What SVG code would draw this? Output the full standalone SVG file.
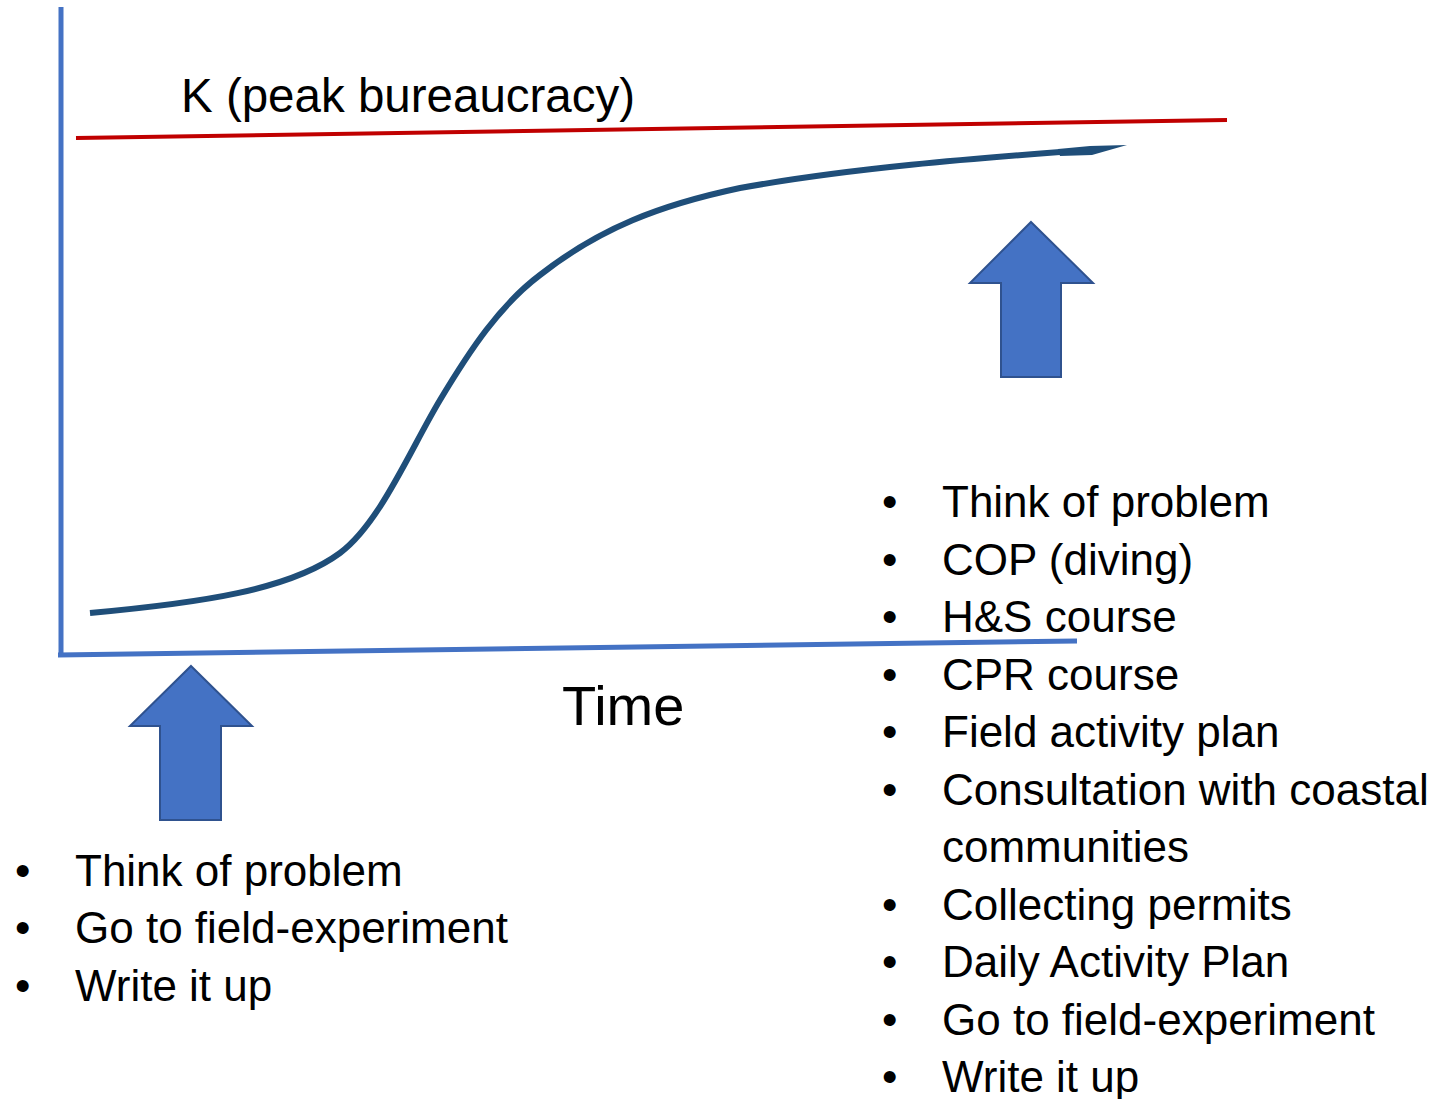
<svg xmlns="http://www.w3.org/2000/svg" width="1437" height="1099" viewBox="0 0 1437 1099">
<style>
  .t { font-family: "Liberation Sans", Arial, sans-serif; font-size: 44px; fill: #000; }
  .arrow { fill: #4472C4; stroke: #2F528F; stroke-width: 2; }
  .axis { stroke: #4472C4; stroke-width: 5; fill: none; }
</style>
<rect width="1437" height="1099" fill="#fff"/>
<g id="connectors">
  <line class="axis" x1="61" y1="7" x2="61" y2="656"/>
  <line class="axis" x1="58" y1="655" x2="1077" y2="641"/>
  <line x1="76" y1="138" x2="1227" y2="120" stroke="#C00000" stroke-width="4"/>
  <path d="M90,613 C200,603 290,590 340,553 C380,523 410,450 440,400 C470,350 500,305 540,275 C600,228 660,205 740,188 C850,168 980,158 1060,152" fill="none" stroke="#1F4E79" stroke-width="6"/>
  <polygon points="1058,149 1090,146 1127,145 1092,155 1060,156" fill="#1F4E79"/>
</g>
<g id="label-k"><text class="t" x="181" y="112" style="font-size:47.5px">K (peak bureaucracy)</text></g>
<g id="label-time"><text class="t" x="562" y="725" style="font-size:56px">Time</text></g>
<g id="arrow-right"><polygon class="arrow" points="1031,222 1093,283 1061,283 1061,377 1001,377 1001,283 970,283"/></g>
<g id="arrow-left"><polygon class="arrow" points="191,666 252,726 221,726 221,820 160,820 160,726 130,726"/></g>
<g id="list-left">
  <text class="t" x="15" y="886">•</text><text class="t" x="75" y="886">Think of problem</text>
  <text class="t" x="15" y="943">•</text><text class="t" x="75" y="943">Go to field-experiment</text>
  <text class="t" x="15" y="1001">•</text><text class="t" x="75" y="1001">Write it up</text>
</g>
<g id="list-right">
  <text class="t" x="882" y="517">•</text><text class="t" x="942" y="517">Think of problem</text>
  <text class="t" x="882" y="575">•</text><text class="t" x="942" y="575">COP (diving)</text>
  <text class="t" x="882" y="632">•</text><text class="t" x="942" y="632">H&amp;S course</text>
  <text class="t" x="882" y="690">•</text><text class="t" x="942" y="690">CPR course</text>
  <text class="t" x="882" y="747">•</text><text class="t" x="942" y="747">Field activity plan</text>
  <text class="t" x="882" y="805">•</text><text class="t" x="942" y="805">Consultation with coastal</text>
  <text class="t" x="942" y="862">communities</text>
  <text class="t" x="882" y="920">•</text><text class="t" x="942" y="920">Collecting permits</text>
  <text class="t" x="882" y="977">•</text><text class="t" x="942" y="977">Daily Activity Plan</text>
  <text class="t" x="882" y="1035">•</text><text class="t" x="942" y="1035">Go to field-experiment</text>
  <text class="t" x="882" y="1092">•</text><text class="t" x="942" y="1092">Write it up</text>
</g>
</svg>
